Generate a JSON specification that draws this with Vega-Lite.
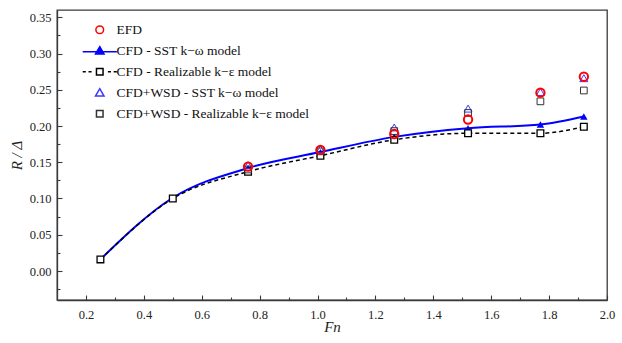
{
  "$schema": "https://vega.github.io/schema/vega-lite/v6.json",
  "width": 550,
  "height": 290,
  "autosize": {"type": "none"},
  "padding": {"left": 57, "top": 10, "right": 15, "bottom": 43},
  "background": "white",
  "config": {
    "view": {"stroke": "#3a3a3a", "strokeWidth": 1.3},
    "font": "Liberation Serif",
    "axis": {
      "labelFont": "Liberation Serif",
      "labelFontSize": 12.5,
      "labelColor": "#222",
      "titleFont": "Liberation Serif",
      "titleFontSize": 15,
      "titleFontWeight": "normal",
      "titleColor": "#222",
      "domainColor": "#3a3a3a",
      "domainWidth": 1.3,
      "tickColor": "#3a3a3a",
      "tickWidth": 1.1,
      "grid": false
    },
    "legend": {
      "labelFont": "Liberation Serif",
      "labelFontSize": 13.5,
      "labelColor": "#111",
      "labelLimit": 0
    }
  },
  "data": {
    "values": [
      {"Fn": 0.76, "R": 0.144, "series": "EFD"},
      {"Fn": 1.01, "R": 0.167, "series": "EFD"},
      {"Fn": 1.265, "R": 0.189, "series": "EFD"},
      {"Fn": 1.52, "R": 0.209, "series": "EFD"},
      {"Fn": 1.77, "R": 0.246, "series": "EFD"},
      {"Fn": 1.92, "R": 0.268, "series": "EFD"},
      {"Fn": 0.25, "R": 0.016, "series": "CFD - SST k−ω model"},
      {"Fn": 0.5, "R": 0.101, "series": "CFD - SST k−ω model"},
      {"Fn": 0.76, "R": 0.142, "series": "CFD - SST k−ω model"},
      {"Fn": 1.01, "R": 0.164, "series": "CFD - SST k−ω model"},
      {"Fn": 1.265, "R": 0.185, "series": "CFD - SST k−ω model"},
      {"Fn": 1.52, "R": 0.197, "series": "CFD - SST k−ω model"},
      {"Fn": 1.77, "R": 0.202, "series": "CFD - SST k−ω model"},
      {"Fn": 1.92, "R": 0.213, "series": "CFD - SST k−ω model"},
      {"Fn": 0.25, "R": 0.016, "series": "CFD - Realizable k−ε model"},
      {"Fn": 0.5, "R": 0.1, "series": "CFD - Realizable k−ε model"},
      {"Fn": 0.76, "R": 0.137, "series": "CFD - Realizable k−ε model"},
      {"Fn": 1.01, "R": 0.159, "series": "CFD - Realizable k−ε model"},
      {"Fn": 1.265, "R": 0.181, "series": "CFD - Realizable k−ε model"},
      {"Fn": 1.52, "R": 0.19, "series": "CFD - Realizable k−ε model"},
      {"Fn": 1.77, "R": 0.19, "series": "CFD - Realizable k−ε model"},
      {"Fn": 1.92, "R": 0.199, "series": "CFD - Realizable k−ε model"},
      {"Fn": 0.76, "R": 0.146, "series": "CFD+WSD - SST k−ω model"},
      {"Fn": 1.01, "R": 0.168, "series": "CFD+WSD - SST k−ω model"},
      {"Fn": 1.265, "R": 0.198, "series": "CFD+WSD - SST k−ω model"},
      {"Fn": 1.52, "R": 0.224, "series": "CFD+WSD - SST k−ω model"},
      {"Fn": 1.77, "R": 0.247, "series": "CFD+WSD - SST k−ω model"},
      {"Fn": 1.92, "R": 0.266, "series": "CFD+WSD - SST k−ω model"},
      {"Fn": 0.76, "R": 0.14, "series": "CFD+WSD - Realizable k−ε model"},
      {"Fn": 1.01, "R": 0.165, "series": "CFD+WSD - Realizable k−ε model"},
      {"Fn": 1.265, "R": 0.193, "series": "CFD+WSD - Realizable k−ε model"},
      {"Fn": 1.52, "R": 0.218, "series": "CFD+WSD - Realizable k−ε model"},
      {"Fn": 1.77, "R": 0.234, "series": "CFD+WSD - Realizable k−ε model"},
      {"Fn": 1.92, "R": 0.249, "series": "CFD+WSD - Realizable k−ε model"}
    ]
  },
  "encoding": {
    "x": {
      "field": "Fn", "type": "quantitative",
      "scale": {"domain": [0.1, 2.0], "nice": false, "zero": false},
      "axis": {
        "title": "Fn",
        "titleFont": "Liberation Serif",
        "titleFontStyle": "italic",
        "titlePadding": -1,
        "labelFont": "Liberation Serif",
        "values": [0.2,0.3,0.4,0.5,0.6,0.7,0.8,0.9,1.0,1.1,1.2,1.3,1.4,1.5,1.6,1.7,1.8,1.9,2.0],
        "labelExpr": "round(datum.value*10) % 2 == 0 ? format(datum.value, '.1f') : ''",
        "tickSize": {"condition": {"test": "round(datum.value*10) % 2 == 0", "value": -5}, "value": -3},
        "labelPadding": 13,
        "labelFlush": false
      }
    },
    "y": {
      "field": "R", "type": "quantitative",
      "scale": {"domain": [-0.04, 0.36], "nice": false, "zero": false},
      "axis": {
        "title": "R / Δ",
        "titleFont": "Liberation Serif",
        "titleFontStyle": "italic",
        "titlePadding": 5,
        "labelFont": "Liberation Serif",
        "values": [-0.025,0,0.025,0.05,0.075,0.1,0.125,0.15,0.175,0.2,0.225,0.25,0.275,0.3,0.325,0.35],
        "labelExpr": "round(datum.value*40) % 2 == 0 ? format(datum.value, '.2f') : ''",
        "tickSize": {"condition": {"test": "round(datum.value*40) % 2 == 0", "value": -5}, "value": -3},
        "labelPadding": 11,
        "labelFlush": false
      }
    }
  },
  "layer": [
    {
      "transform": [{"filter": {"field": "series", "equal": "CFD - SST k−ω model"}}],
      "mark": {"type": "line", "interpolate": "monotone", "color": "#0000ff", "strokeWidth": 2}
    },
    {
      "transform": [{"filter": {"field": "series", "equal": "CFD - Realizable k−ε model"}}],
      "mark": {"type": "line", "interpolate": "monotone", "color": "#000000", "strokeWidth": 1.5, "strokeDash": [4, 3]}
    },
    {
      "transform": [{"filter": {"field": "series", "equal": "CFD - SST k−ω model"}}],
      "mark": {"type": "point", "shape": "triangle-up", "filled": true, "color": "#0000ff", "size": 55, "opacity": 1}
    },
    {
      "transform": [{"filter": {"field": "series", "equal": "CFD - Realizable k−ε model"}}],
      "mark": {"type": "point", "shape": "square", "fill": "white", "stroke": "#000000", "strokeWidth": 1.3, "size": 45, "opacity": 1, "fillOpacity": 1}
    },
    {
      "transform": [{"filter": {"field": "series", "equal": "CFD+WSD - SST k−ω model"}}],
      "mark": {"type": "point", "shape": "triangle-up", "filled": false, "color": "#3a3aff", "strokeWidth": 1, "size": 65, "opacity": 1}
    },
    {
      "transform": [{"filter": {"field": "series", "equal": "CFD+WSD - Realizable k−ε model"}}],
      "mark": {"type": "point", "shape": "square", "filled": false, "color": "#333333", "strokeWidth": 1, "size": 45, "opacity": 1}
    },
    {
      "transform": [{"filter": {"field": "series", "equal": "EFD"}}],
      "mark": {"type": "point", "shape": "circle", "filled": false, "color": "#ff0000", "strokeWidth": 2, "size": 70, "opacity": 1}
    },
    {
      "transform": [{"filter": "false"}],
      "mark": {"type": "point", "filled": true, "opacity": 1},
      "encoding": {
        "shape": {
          "field": "series", "type": "nominal",
          "scale": {
            "domain": ["EFD", "CFD - SST k−ω model", "CFD - Realizable k−ε model", "CFD+WSD - SST k−ω model", "CFD+WSD - Realizable k−ε model"],
            "range": [
              "M1,0A1,1 0 1,1 -1,0A1,1 0 1,1 1,0Z",
              "M-4.4,0.25H4.4M0,-1.05L1.1,0.85L-1.1,0.85Z",
              "M-4.4,0H-3.6M-2.9,0H-2.1M2.1,0H2.9M3.6,0H4.4M-0.85,-0.85H0.85V0.85H-0.85Z",
              "M0,-1.05L1.1,0.85L-1.1,0.85Z",
              "M-0.85,-0.85H0.85V0.85H-0.85Z"
            ]
          },
          "legend": {
            "title": null, "orient": "none", "legendX": 36, "legendY": 13, "padding": 0,
            "symbolSize": 60, "symbolStrokeWidth": 1.5, "labelOffset": 10, "rowPadding": 6, "labelLimit": 0
          }
        },
        "stroke": {
          "field": "series", "type": "nominal",
          "scale": {
            "domain": ["EFD", "CFD - SST k−ω model", "CFD - Realizable k−ε model", "CFD+WSD - SST k−ω model", "CFD+WSD - Realizable k−ε model"],
            "range": ["#ff0000", "#0000ff", "#000000", "#3a3aff", "#333333"]
          },
          "legend": {
            "title": null, "orient": "none", "legendX": 36, "legendY": 13, "padding": 0,
            "symbolSize": 60, "symbolStrokeWidth": 1.5, "labelOffset": 10, "rowPadding": 6, "labelLimit": 0
          }
        },
        "fill": {
          "field": "series", "type": "nominal",
          "scale": {
            "domain": ["EFD", "CFD - SST k−ω model", "CFD - Realizable k−ε model", "CFD+WSD - SST k−ω model", "CFD+WSD - Realizable k−ε model"],
            "range": ["#ffffff", "#0000ff", "#ffffff", "#ffffff", "#ffffff"]
          },
          "legend": {
            "title": null, "orient": "none", "legendX": 36, "legendY": 13, "padding": 0,
            "symbolSize": 60, "symbolStrokeWidth": 1.5, "labelOffset": 10, "rowPadding": 6, "labelLimit": 0
          }
        }
      }
    }
  ]
}
